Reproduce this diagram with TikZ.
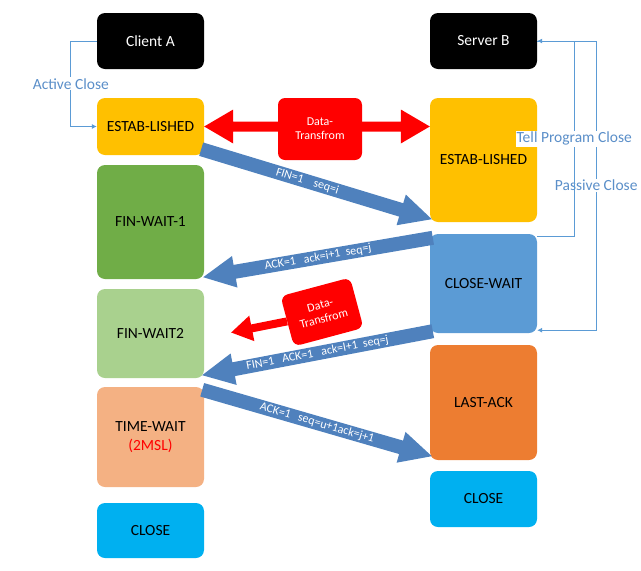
\documentclass[tikz,border=0pt]{standalone}
\usepackage{fontspec}
\setmainfont{Carlito}
\usetikzlibrary{calc,arrows.meta}
\definecolor{headblack}{HTML}{000000}
\definecolor{estabyellow}{HTML}{FFC000}
\definecolor{waitgreen}{HTML}{70AD47}
\definecolor{waitlight}{HTML}{A9D18E}
\definecolor{timesalmon}{HTML}{F4B183}
\definecolor{closecyan}{HTML}{00B0F0}
\definecolor{closeblue}{HTML}{5B9BD5}
\definecolor{lastorange}{HTML}{ED7D31}
\definecolor{datared}{HTML}{FF0000}
\definecolor{segblue}{HTML}{4F81BD}
\definecolor{linkblue}{HTML}{5B9BD5}
\definecolor{linktext}{HTML}{5B8FC9}

\tikzset{
  state/.style={rounded corners=8pt,minimum width=107pt,inner sep=0pt,
    align=center,text=black,font=\fontsize{15.5}{19}\selectfont},
  databox/.style={rounded corners=7pt,fill=datared,inner sep=0pt,align=center,
    text=white,font=\fontsize{12}{14}\selectfont},
  seglabel/.style={sloped,text=white,font=\fontsize{12}{14}\selectfont},
  link/.style={draw=linkblue,line width=0.8pt},
  linklabel/.style={fill=white,text=linktext,inner sep=1pt,
    font=\fontsize{15.5}{19}\selectfont},
}

% fat arrow: from, to, colour, shaft half width, head half width, head length
\newcommand\fatarrow[6]{%
  \coordinate (fah) at ($(#2)!#6!(#1)$);
  \fill[#3] ($(#1)!#4!90:(#2)$) -- ($(fah)!#4!-90:(#1)$) -- ($(fah)!#5!-90:(#1)$)
    -- (#2) -- ($(fah)!#5!90:(#1)$) -- ($(fah)!#4!90:(#1)$)
    -- ($(#1)!#4!-90:(#2)$) -- cycle;}

\begin{document}
\begin{tikzpicture}[x=1pt,y=-1pt]
\useasboundingbox (0,0) rectangle (641,571);

% client side
\node[state,fill=headblack,text=white,minimum height=56pt] (clientA) at (150.5,41) {Client A};
\node[state,fill=estabyellow,minimum height=57pt] (estabA) at (150.5,126.5) {ESTAB-LISHED};
\node[state,fill=waitgreen,minimum height=114pt] (finwaitA) at (150.5,222) {FIN-WAIT-1};
\node[state,fill=waitlight,minimum height=89pt] (finwaitB) at (150.5,333.5) {FIN-WAIT2};
\node[state,fill=timesalmon,minimum height=100pt] (timewait) at (150.5,437)
  {TIME-WAIT\\{\color{datared}(2MSL)}};
\node[state,fill=closecyan,minimum height=55pt] (closeA) at (150.5,530.5) {CLOSE};

% server side
\node[state,fill=headblack,text=white,minimum height=56pt] (serverB) at (483.5,41) {Server B};
\node[state,fill=estabyellow,minimum height=124pt] (estabB) at (483.5,160) {ESTAB-LISHED};
\node[state,fill=closeblue,minimum height=99pt] (closewait) at (483.5,283.5) {CLOSE-WAIT};
\node[state,fill=lastorange,minimum height=115pt] (lastack) at (483.5,402.5) {LAST-ACK};
\node[state,fill=closecyan,minimum height=56pt] (closeB) at (483.5,499) {CLOSE};

% data transfer
\coordinate (datatipB) at (estabB.west |- estabA.east);
\coordinate (datamid) at ($(estabA.east)!0.5!(datatipB)$);
\fatarrow{datamid}{estabA.east}{datared}{5pt}{17pt}{29pt}
\fatarrow{datamid}{datatipB}{datared}{5pt}{17pt}{29pt}
\node[databox,minimum width=84pt,minimum height=62pt] (dataA) at (320,129) {Data-\\Transfrom};

\node[databox,minimum width=72pt,minimum height=52pt,rotate=15] (dataB) at (322,312) {Data-\\Transfrom};
\coordinate (datatip) at ($(finwaitB.east)+(27,-1)$);
\fatarrow{dataB.west}{datatip}{datared}{4pt}{13pt}{21pt}

% segments
\coordinate (finS) at ($(estabA.south east)+(-3,-6)$);
\coordinate (finE) at ($(estabB.south west)+(2,-3)$);
\fatarrow{finS}{finE}{segblue}{7pt}{16pt}{32pt}
\path (finS) -- (finE) node[seglabel,pos=0.46]{FIN=1\ \ \ \ seq=i};

\coordinate (ackS) at ($(closewait.north west)+(3,4)$);
\coordinate (ackE) at ($(finwaitA.south east)+(-1,-2)$);
\fatarrow{ackS}{ackE}{segblue}{7pt}{16pt}{32pt}
\path (ackS) -- (ackE) node[seglabel,midway]{ACK=1\ \ \ ack=i+1\ \ seq=j};

\coordinate (fin2S) at ($(closewait.south west)+(3,-2)$);
\coordinate (fin2E) at ($(finwaitB.south east)+(-2,-3)$);
\fatarrow{fin2S}{fin2E}{segblue}{7pt}{16pt}{32pt}
\path (fin2S) -- (fin2E) node[seglabel,midway]{FIN=1\ \ \ ACK=1\ \ \ ack=l+1\ \ seq=j};

\coordinate (lastS) at ($(timewait.north east)+(-2,3)$);
\coordinate (lastE) at ($(lastack.south west)+(2,-4)$);
\fatarrow{lastS}{lastE}{segblue}{7pt}{16pt}{32pt}
\path (lastS) -- (lastE) node[seglabel,midway]{ACK=1\ \ \ seq=u+1ack=j+1};

% close notes
\draw[link,-{Latex[length=5pt,width=5pt]}] (clientA.west) -- ++(-26,0)
  -- node[linklabel]{Active Close} ($(estabA.west)+(-26,0)$) -- (estabA.west);
\draw[link,-{Latex[length=5pt,width=5pt]}] (serverB.east) -- ++(59,0)
  -- node[linklabel]{Passive Close} ($(closewait.south east)+(59,-3)$)
  -- ($(closewait.south east)+(0,-3)$);
\draw[link,-{Latex[length=5pt,width=5pt]}] ($(closewait.north east)+(0,3)$) -- ++(37,0)
  -- node[linklabel]{Tell Program Close} ($(serverB.east)+(37,0)$) -- (serverB.east);
\end{tikzpicture}
\end{document}
